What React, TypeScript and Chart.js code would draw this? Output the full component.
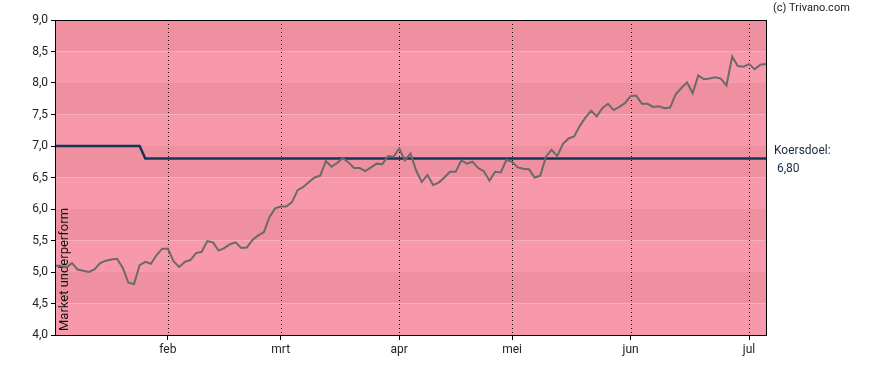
import React, { useEffect, useRef } from "react";
import { Chart, registerables } from "chart.js";

Chart.register(...registerables);

// Closing prices, one per trading day (index 0 = first trading day in January)
const priceValues: number[] = [
  5.10, 5.10, 5.07, 5.14, 5.04, 5.02, 5.00, 5.04, 5.14, 5.18,
  5.20, 5.21, 5.07, 4.83, 4.81, 5.11, 5.16, 5.13, 5.27, 5.37,
  5.37, 5.17, 5.08, 5.16, 5.19, 5.30, 5.32, 5.49, 5.47, 5.34,
  5.38, 5.44, 5.47, 5.38, 5.39, 5.51, 5.58, 5.63, 5.87, 6.01,
  6.04, 6.04, 6.11, 6.30, 6.35, 6.43, 6.50, 6.53, 6.76, 6.67,
  6.73, 6.81, 6.74, 6.65, 6.65, 6.60, 6.66, 6.72, 6.71, 6.84,
  6.83, 6.96, 6.77, 6.88, 6.61, 6.43, 6.54, 6.38, 6.42, 6.50,
  6.59, 6.59, 6.77, 6.72, 6.75, 6.65, 6.60, 6.45, 6.59, 6.58,
  6.78, 6.75, 6.66, 6.64, 6.63, 6.50, 6.53, 6.83, 6.94, 6.84,
  7.03, 7.12, 7.15, 7.32, 7.45, 7.56, 7.47, 7.60, 7.67, 7.57,
  7.62, 7.68, 7.79, 7.80, 7.67, 7.67, 7.62, 7.63, 7.60, 7.61,
  7.82, 7.92, 8.01, 7.84, 8.12, 8.06, 8.07, 8.09, 8.07, 7.96,
  8.42, 8.27, 8.26, 8.30, 8.22, 8.29, 8.30,
];

// Price target (koersdoel): changes from 7,00 to 6,80
const targetChanges: { from: number; value: number }[] = [
  { from: 0, value: 7.0 },
  { from: 16, value: 6.8 },
];

// Month ticks (trading-day index of first day of month)
const monthTickIndex: number[] = [20, 40, 61, 81, 102, 123];
const monthLabels: string[] = ["feb", "mrt", "apr", "mei", "jun", "jul"];

const yMin = 4;
const yMax = 9;
const yStep = 0.5;

const targetLabel = "Koersdoel:";
const targetValueLabel = " 6,80";
const ratingLabel = "Market underperform";
const copyrightLabel = "(c) Trivano.com";

const FONT = "Roboto, 'DejaVu Sans', sans-serif";

function buildTargetSeries(n: number): number[] {
  const out: number[] = [];
  for (let i = 0; i < n; i++) {
    let v = targetChanges[0].value;
    for (const c of targetChanges) if (i >= c.from) v = c.value;
    out.push(v);
  }
  return out;
}

const bandsPlugin = {
  id: "bands",
  beforeDatasetsDraw(chart: any) {
    const { ctx, chartArea, scales } = chart;
    const y = scales.y;
    const x = scales.x;
    ctx.save();
    let k = 0;
    for (let v = yMax; v > yMin; v -= yStep) {
      const top = y.getPixelForValue(v);
      const bot = y.getPixelForValue(v - yStep);
      ctx.fillStyle = k % 2 === 0 ? "#ee90a0" : "#f799aa";
      ctx.fillRect(chartArea.left, top, chartArea.right - chartArea.left, bot - top);
      k++;
    }
    // dotted month lines
    ctx.strokeStyle = "#000";
    ctx.lineWidth = 1;
    ctx.setLineDash([1, 3]);
    for (const idx of monthTickIndex) {
      const px = Math.round(x.getPixelForValue(idx)) + 0.5;
      ctx.beginPath();
      ctx.moveTo(px, chartArea.top);
      ctx.lineTo(px, chartArea.bottom);
      ctx.stroke();
    }
    ctx.setLineDash([]);
    // rating text
    ctx.fillStyle = "#111";
    ctx.font = `13px ${FONT}`;
    ctx.translate(chartArea.left + 13, chartArea.bottom - 4);
    ctx.rotate(-Math.PI / 2);
    ctx.textAlign = "left";
    ctx.textBaseline = "alphabetic";
    ctx.fillText(ratingLabel, 0, 0);
    ctx.restore();
  },
  afterDraw(chart: any) {
    const { ctx, chartArea, scales } = chart;
    const y = scales.y;
    ctx.save();
    ctx.strokeStyle = "#000";
    ctx.lineWidth = 1;
    ctx.strokeRect(
      Math.round(chartArea.left) + 0.5,
      Math.round(chartArea.top) + 0.5,
      Math.round(chartArea.right - chartArea.left),
      Math.round(chartArea.bottom - chartArea.top)
    );
    const ty = y.getPixelForValue(targetChanges[targetChanges.length - 1].value);
    ctx.fillStyle = "#1a2b40";
    ctx.font = `12px ${FONT}`;
    ctx.textAlign = "left";
    ctx.textBaseline = "middle";
    ctx.fillText(targetLabel, chartArea.right + 8, ty - 8);
    ctx.fillText(targetValueLabel, chartArea.right + 8, ty + 10);
    ctx.fillStyle = "#222";
    ctx.font = `11px ${FONT}`;
    ctx.fillText(copyrightLabel, chartArea.right + 7, 8);
    ctx.restore();
  },
};

export default function App() {
  const ref = useRef<HTMLCanvasElement | null>(null);
  useEffect(() => {
    if (!ref.current) return;
    const n = priceValues.length;
    const labels = priceValues.map((_, i) => i);
    const chart = new Chart(ref.current, {
      type: "line",
      data: {
        labels,
        datasets: [
          {
            data: buildTargetSeries(n).map((v, i) => ({ x: i, y: v })),
            borderColor: "#13365a",
            borderWidth: 2.5,
            pointRadius: 0,
            tension: 0,
            order: 2,
          },
          {
            data: priceValues.map((v, i) => ({ x: i, y: v })),
            borderColor: "#6a6a6a",
            borderWidth: 2,
            pointRadius: 0,
            tension: 0,
            order: 1,
          },
        ],
      },
      options: {
        animation: false,
        responsive: false,
        devicePixelRatio: 1,
        layout: { padding: { top: 20, right: 122, left: 0, bottom: 0 } },
        plugins: { legend: { display: false }, tooltip: { enabled: false } },
        scales: {
          x: {
            type: "linear",
            min: 0,
            max: n - 1,
            afterBuildTicks: (s: any) => {
              s.ticks = monthTickIndex.map((v) => ({ value: v }));
            },
            afterFit: (s: any) => {
              s.height = 35;
            },
            grid: { display: true, drawOnChartArea: false, drawTicks: true, tickLength: 5, color: "#000" },
            border: { display: false },
            ticks: {
              autoSkip: false,
              maxRotation: 0,
              padding: 3,
              color: "#222",
              font: { family: FONT, size: 12 },
              callback: (v: any) => {
                const i = monthTickIndex.indexOf(Number(v));
                return i >= 0 ? monthLabels[i] : "";
              },
            },
          },
          y: {
            type: "linear",
            min: yMin,
            max: yMax,
            afterFit: (s: any) => {
              s.width = 55;
            },
            grid: { display: true, drawOnChartArea: false, drawTicks: true, tickLength: 4, color: "#000" },
            border: { display: false },
            ticks: {
              stepSize: yStep,
              padding: 3,
              color: "#222",
              font: { family: FONT, size: 12 },
              callback: (v: any) => Number(v).toFixed(1).replace(".", ","),
            },
          },
        },
      },
      plugins: [bandsPlugin],
    } as any);
    return () => chart.destroy();
  }, []);
  return (
    <canvas
      ref={ref}
      width={888}
      height={370}
      style={{ position: "absolute", left: 0, top: 0, width: 888, height: 370 }}
    />
  );
}
